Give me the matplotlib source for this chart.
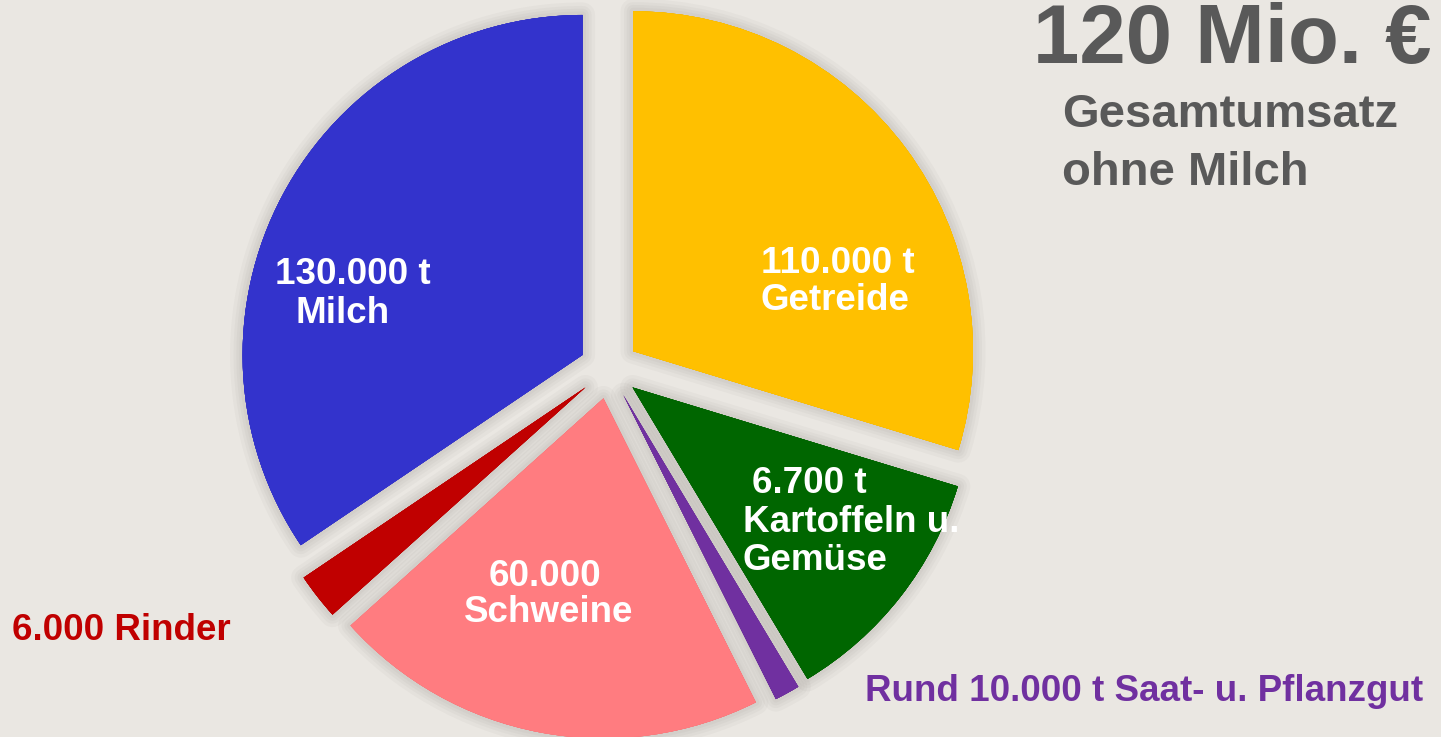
import matplotlib
matplotlib.use("Agg")
import matplotlib.pyplot as plt
import matplotlib.patheffects as pe

# ---- data ----
categories = ["Getreide", "Kartoffeln u. Gemüse", "Saat- u. Pflanzgut", "Schweine", "Rinder", "Milch"]
shares = [29.7, 11.7, 1.2, 20.75, 2.2, 34.45]   # share of the circle (%)
colors = ["#FFC000", "#006600", "#7030A0", "#FF7C80", "#C00000", "#3333CC"]

# label texts (line by line)
label_milch = ["130.000 t", "Milch"]
label_getreide = ["110.000 t", "Getreide"]
label_kartoffeln = ["6.700 t", "Kartoffeln u.", "Gemüse"]
label_schweine = ["60.000", "Schweine"]
label_rinder = "6.000 Rinder"
label_saat = "Rund 10.000 t Saat- u. Pflanzgut"
title_big = "120 Mio. €"
title_sub = ["Gesamtumsatz", "ohne Milch"]

BG = "#EAE7E2"
W, H = 1441, 737
fig = plt.figure(figsize=(W / 100, H / 100), dpi=100, facecolor=BG)
ax = fig.add_axes([0, 0, 1, 1])
ax.set_facecolor(BG)

cx, cy, R = 609, 369, 340
wedges, _ = ax.pie(shares, colors=colors, startangle=90, counterclock=False,
                   explode=[0.088] * len(shares),
                   wedgeprops=dict(edgecolor="none", linewidth=0))
glow = [pe.Stroke(linewidth=w, foreground=(0.3, 0.28, 0.25, 0.035), joinstyle="round")
        for w in (18, 13, 9, 5)]
for w in wedges:
    w.set_path_effects(glow + [pe.Normal()])

ax.set_aspect("auto")
ax.set_xlim(-cx / R, (W - cx) / R)
ax.set_ylim((cy - H) / R, cy / R)
ax.axis("off")

FONT = "Liberation Sans"


def txt(x, y, s, size, color, ha="left"):
    fig.text(x / W, 1 - y / H, s, fontsize=size, color=color, ha=ha, va="baseline",
             fontweight="bold", family=FONT)


white = "white"
s = 26.5
txt(275, 284, label_milch[0], s, white)
txt(295, 323, label_milch[1], s, white)
txt(761, 273, label_getreide[0], s, white)
txt(761, 310, label_getreide[1], s, white)
txt(752, 493, label_kartoffeln[0], s, white)
txt(743, 532, label_kartoffeln[1], s, white)
txt(743, 570, label_kartoffeln[2], s, white)
txt(545, 586, label_schweine[0], s, white, ha="center")
txt(549, 622, label_schweine[1], s, white, ha="center")
txt(12, 640, label_rinder, s, "#C00000")
txt(865, 701, label_saat, s, "#7030A0")
txt(1033, 63, title_big, 60, "#595959")
txt(1062, 127, title_sub[0], 34, "#595959")
txt(1062, 185, title_sub[1], 34, "#595959")

fig.savefig("out.png", dpi=100, facecolor=BG)
